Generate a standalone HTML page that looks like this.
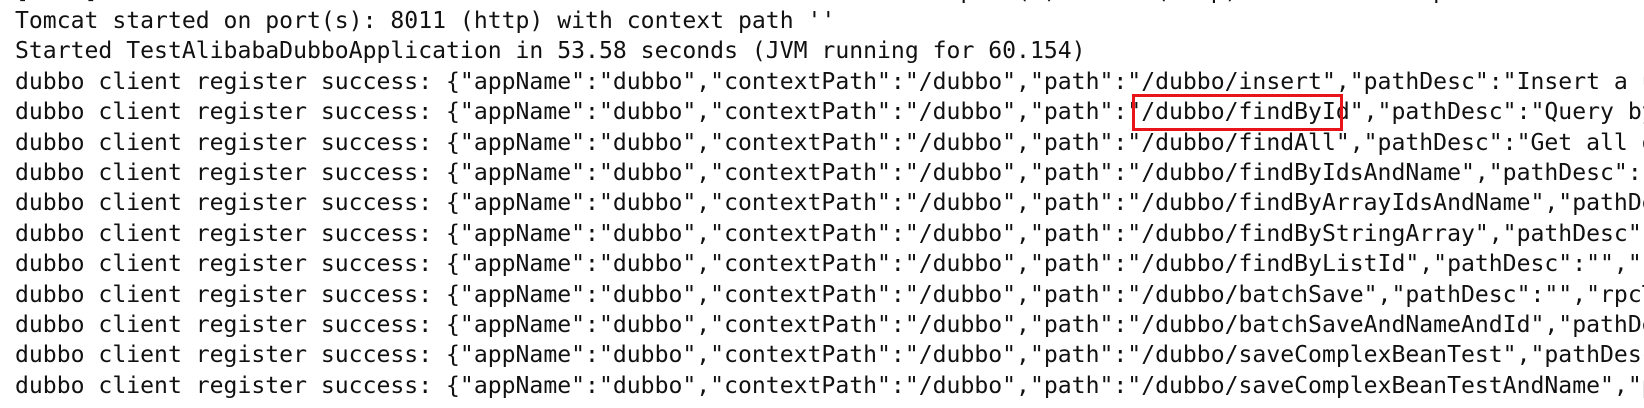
<!DOCTYPE html>
<html>
<head>
<meta charset="utf-8">
<style>
html,body{margin:0;padding:0;background:#fff;width:1644px;height:408px;overflow:hidden;}
svg{display:block;}
text{font-family:"DejaVu Sans Mono","Liberation Mono",monospace;font-size:23.1px;fill:#111;white-space:pre;}
</style>
</head>
<body>
<svg width="1644" height="408" viewBox="0 0 1644 408" xmlns="http://www.w3.org/2000/svg" xml:space="preserve">
<text x="15" y="-2">[main] o.s.b.w.embedded.tomcat.TomcatWebServer  : Tomcat started on port(s): 8011 (http) with context path ''</text>
<text x="15" y="28">Tomcat started on port(s): 8011 (http) with context path ''</text>
<text x="15" y="58">Started TestAlibabaDubboApplication in 53.58 seconds (JVM running for 60.154)</text>
<text x="15" y="89">dubbo client register success: {"appName":"dubbo","contextPath":"/dubbo","path":"/dubbo/insert","pathDesc":"Insert a user"</text>
<text x="15" y="119">dubbo client register success: {"appName":"dubbo","contextPath":"/dubbo","path":"/dubbo/findById","pathDesc":"Query by Id"</text>
<text x="15" y="150">dubbo client register success: {"appName":"dubbo","contextPath":"/dubbo","path":"/dubbo/findAll","pathDesc":"Get all data"</text>
<text x="15" y="180">dubbo client register success: {"appName":"dubbo","contextPath":"/dubbo","path":"/dubbo/findByIdsAndName","pathDesc":""</text>
<text x="15" y="210">dubbo client register success: {"appName":"dubbo","contextPath":"/dubbo","path":"/dubbo/findByArrayIdsAndName","pathDesc":""</text>
<text x="15" y="241">dubbo client register success: {"appName":"dubbo","contextPath":"/dubbo","path":"/dubbo/findByStringArray","pathDesc":""</text>
<text x="15" y="271">dubbo client register success: {"appName":"dubbo","contextPath":"/dubbo","path":"/dubbo/findByListId","pathDesc":"","rpc"</text>
<text x="15" y="302">dubbo client register success: {"appName":"dubbo","contextPath":"/dubbo","path":"/dubbo/batchSave","pathDesc":"","rpcType"</text>
<text x="15" y="332">dubbo client register success: {"appName":"dubbo","contextPath":"/dubbo","path":"/dubbo/batchSaveAndNameAndId","pathDesc":""</text>
<text x="15" y="362">dubbo client register success: {"appName":"dubbo","contextPath":"/dubbo","path":"/dubbo/saveComplexBeanTest","pathDesc":""</text>
<text x="15" y="393">dubbo client register success: {"appName":"dubbo","contextPath":"/dubbo","path":"/dubbo/saveComplexBeanTestAndName","pathDesc"</text>
<rect x="1133.5" y="95.5" width="208" height="34" fill="none" stroke="#e8141a" stroke-width="3"/>
</svg>
</body>
</html>
